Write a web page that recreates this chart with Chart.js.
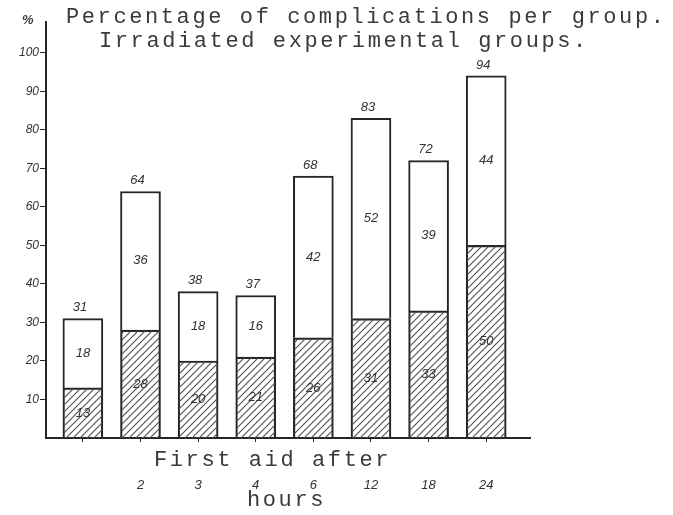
<!DOCTYPE html>
<html>
<head>
<meta charset="utf-8">
<script src="https://cdn.jsdelivr.net/npm/chart.js@4"></script>
<style>
  html, body { margin: 0; padding: 0; background: #fff; }
  #wrap { width: 673px; height: 515px; }
</style>
</head>
<body>
<div id="wrap"><canvas id="barChart" width="673" height="515"></canvas></div>
<script>
// hours after irradiation when first aid was given
const xLabels = ['', '2', '3', '4', '6', '12', '18', '24'];
const lowerValues = [13, 28, 20, 21, 26, 31, 33, 50];   // hatched part
const upperValues = [18, 36, 18, 16, 42, 52, 39, 44];   // open part
const totalValues = [31, 64, 38, 37, 68, 83, 72, 94];
const yTicks = [10, 20, 30, 40, 50, 60, 70, 80, 90, 100];

const ink = '#262626';
const typeFont = '"Liberation Mono", "DejaVu Sans Mono", monospace';
const handFont = 'italic 13px "Liberation Sans", sans-serif';

// diagonal hatching for the lower segment
const makeHatch = () => {
  const c = document.createElement('canvas');
  c.width = 7; c.height = 7;
  const g = c.getContext('2d');
  g.strokeStyle = '#555';
  g.lineWidth = 1.2;
  g.beginPath();
  g.moveTo(-1, 8); g.lineTo(8, -1);
  g.moveTo(-1, 1); g.lineTo(1, -1);
  g.moveTo(6, 8); g.lineTo(8, 6);
  g.stroke();
  return g.createPattern(c, 'repeat');
};

const toPoints = (values) => values.map((v, i) => ({ x: i + 1, y: v }));

const textPlugin = {
  id: 'typedText',
  afterDatasetsDraw(chart) {
    const ctx = chart.ctx;
    const lower = chart.getDatasetMeta(0).data;
    const upper = chart.getDatasetMeta(1).data;
    ctx.save();
    ctx.font = handFont;
    ctx.fillStyle = '#333';
    ctx.textAlign = 'center';
    ctx.textBaseline = 'middle';
    lower.forEach((bar, i) => {
      ctx.fillText(lowerValues[i], bar.x, (bar.y + bar.base) / 2);
      const top = upper[i];
      ctx.fillText(upperValues[i], top.x, (top.y + top.base) / 2);
      ctx.fillText(totalValues[i], top.x - 3, top.y - 11);
    });
    ctx.restore();
  },
  afterDraw(chart) {
    const ctx = chart.ctx;
    const area = chart.chartArea;
    ctx.save();
    ctx.fillStyle = '#3a3a3a';
    ctx.textBaseline = 'middle';
    ctx.textAlign = 'left';
    ctx.font = '22px ' + typeFont;
    ctx.letterSpacing = '2.6px';
    ctx.fillText('Percentage of complications per group.', 66, 17);
    ctx.fillText('Irradiated experimental groups.', 99, 41);
    ctx.fillText('First aid after', 154, area.bottom + 22);
    ctx.fillText('hours', 247, area.bottom + 62);
    ctx.letterSpacing = '0px';
    ctx.font = 'italic bold 13px "Liberation Sans", sans-serif';
    ctx.fillText('%', 22, 20);
    ctx.restore();
  }
};

new Chart(document.getElementById('barChart').getContext('2d'), {
  type: 'bar',
  data: {
    datasets: [
      {
        label: 'lower',
        data: toPoints(lowerValues),
        backgroundColor: makeHatch(),
        borderColor: ink,
        borderWidth: 1.5,
        barThickness: 40
      },
      {
        label: 'upper',
        data: toPoints(upperValues),
        backgroundColor: '#fff',
        borderColor: ink,
        borderWidth: 2,
        barThickness: 40
      }
    ]
  },
  options: {
    responsive: false,
    animation: false,
    layout: { padding: { top: 22, right: 143, left: 0, bottom: 0 } },
    plugins: {
      legend: { display: false },
      tooltip: { enabled: false }
    },
    scales: {
      x: {
        type: 'linear',
        stacked: true,
        offset: false,
        min: 0.36,
        max: 8.76,
        afterBuildTicks: (scale) => {
          scale.ticks = xLabels.map((l, i) => ({ value: i + 1 }));
        },
        afterFit: (scale) => { scale.height = 77; },
        border: { color: ink, width: 2 },
        grid: { drawOnChartArea: false, offset: false, tickLength: 4, color: ink },
        ticks: {
          padding: 36,
          maxRotation: 0,
          autoSkip: false,
          color: '#333',
          font: { family: '"Liberation Sans", sans-serif', size: 13, style: 'italic' },
          callback: (v) => xLabels[Math.round(v) - 1]
        }
      },
      y: {
        stacked: true,
        min: 0,
        max: 108,
        afterBuildTicks: (scale) => {
          scale.ticks = yTicks.map(v => ({ value: v }));
        },
        afterFit: (scale) => { scale.width = 46; },
        border: { color: ink, width: 2 },
        grid: { drawOnChartArea: false, tickLength: 6, color: ink },
        ticks: {
          padding: 1,
          color: '#333',
          font: { family: '"Liberation Sans", sans-serif', size: 12, style: 'italic' }
        }
      }
    }
  },
  plugins: [textPlugin]
});
</script>
</body>
</html>
